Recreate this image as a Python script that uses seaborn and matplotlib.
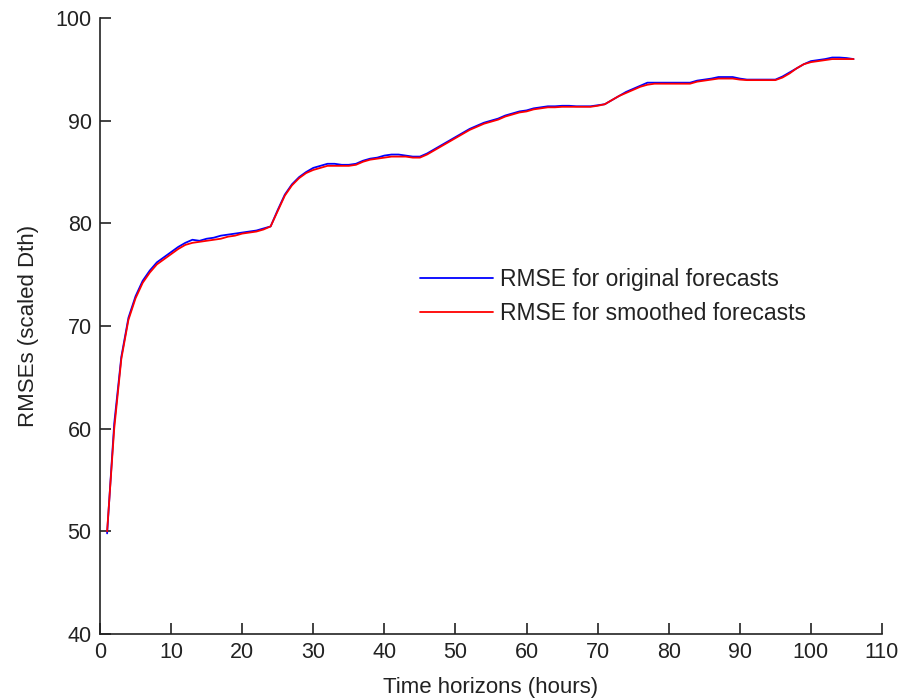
import numpy as np
import pandas as pd
import matplotlib
matplotlib.use("Agg")
import matplotlib.pyplot as plt
import seaborn as sns

hours = list(range(1, 107))
rmse_original = [
    49.8, 60.5, 67.0, 70.8, 72.9, 74.4, 75.4, 76.2, 76.7, 77.2,
    77.7, 78.1, 78.4, 78.3, 78.5, 78.6, 78.8, 78.9, 79.0, 79.1,
    79.2, 79.3, 79.5, 79.7, 81.3, 82.8, 83.8, 84.5, 85.0, 85.4,
    85.6, 85.8, 85.8, 85.7, 85.7, 85.8, 86.1, 86.3, 86.4, 86.6,
    86.7, 86.7, 86.6, 86.5, 86.5, 86.8, 87.2, 87.6, 88.0, 88.4,
    88.8, 89.2, 89.5, 89.8, 90.0, 90.2, 90.5, 90.7, 90.9, 91.0,
    91.2, 91.3, 91.4, 91.4, 91.45, 91.45, 91.4, 91.4, 91.4, 91.5,
    91.6, 92.0, 92.4, 92.8, 93.1, 93.4, 93.7, 93.7, 93.7, 93.7,
    93.7, 93.7, 93.7, 93.9, 94.0, 94.1, 94.25, 94.25, 94.25, 94.1,
    94.0, 94.0, 94.0, 94.0, 94.0, 94.3, 94.7, 95.1, 95.5, 95.8,
    95.9, 96.0, 96.15, 96.15, 96.1, 96.0,
]
rmse_smoothed = [
    50.0, 60.0, 66.8, 70.6, 72.7, 74.2, 75.2, 76.0, 76.5, 77.0,
    77.5, 77.9, 78.1, 78.2, 78.3, 78.4, 78.5, 78.7, 78.8, 79.0,
    79.1, 79.2, 79.4, 79.7, 81.2, 82.7, 83.7, 84.4, 84.9, 85.2,
    85.4, 85.6, 85.6, 85.6, 85.6, 85.7, 86.0, 86.2, 86.3, 86.4,
    86.5, 86.5, 86.5, 86.4, 86.4, 86.7, 87.1, 87.5, 87.9, 88.3,
    88.7, 89.1, 89.4, 89.7, 89.9, 90.1, 90.4, 90.6, 90.8, 90.9,
    91.1, 91.2, 91.3, 91.3, 91.35, 91.35, 91.35, 91.35, 91.35, 91.45,
    91.6, 92.0, 92.4, 92.7, 93.0, 93.3, 93.5, 93.6, 93.6, 93.6,
    93.6, 93.6, 93.6, 93.8, 93.9, 94.0, 94.1, 94.1, 94.1, 94.0,
    93.95, 93.95, 93.95, 93.95, 93.95, 94.2, 94.6, 95.1, 95.5, 95.7,
    95.8, 95.9, 96.0, 96.0, 96.0, 96.0,
]
series_names = ["RMSE for original forecasts", "RMSE for smoothed forecasts"]
x_ticks = list(range(0, 111, 10))
y_ticks = list(range(40, 101, 10))

df = pd.concat([
    pd.DataFrame({"h": hours, "v": rmse_original, "s": series_names[0]}),
    pd.DataFrame({"h": hours, "v": rmse_smoothed, "s": series_names[1]}),
])

sns.set_style("white")
plt.rcParams["font.family"] = ["Liberation Sans", "DejaVu Sans"]

fig = plt.figure(figsize=(9.04, 7.0), dpi=100)
ax = fig.add_axes([100/904, 66/700, 782/904, 616/700])

sns.lineplot(data=df, x="h", y="v", hue="s", palette=["#0000ff", "#ff0000"],
             linewidth=1.3, ax=ax)

ax.set_xlim(0, 110)
ax.set_ylim(40, 100)
ax.set_xticks(x_ticks)
ax.set_yticks(y_ticks)
ax.tick_params(bottom=True, left=True, top=False, right=False,
               direction="in", length=8, width=1.2, labelsize=15.5,
               colors="#222222", labelcolor="#222222", pad=6)
for side in ["top", "right"]:
    ax.spines[side].set_visible(False)
for side in ["left", "bottom"]:
    ax.spines[side].set_color("#222222")
    ax.spines[side].set_linewidth(1.2)

ax.set_xlabel("Time horizons (hours)", fontsize=16, color="#222222", labelpad=10)
ax.set_ylabel("RMSEs (scaled Dth)", fontsize=16, color="#222222", labelpad=12)

leg = ax.legend(loc="upper left", bbox_to_anchor=(0.383, 0.628), frameon=False,
                fontsize=16.5, handlelength=3.2, handletextpad=0.3, labelspacing=0.5)
for t in leg.get_texts():
    t.set_color("#222222")

fig.savefig("out.png", dpi=100)
